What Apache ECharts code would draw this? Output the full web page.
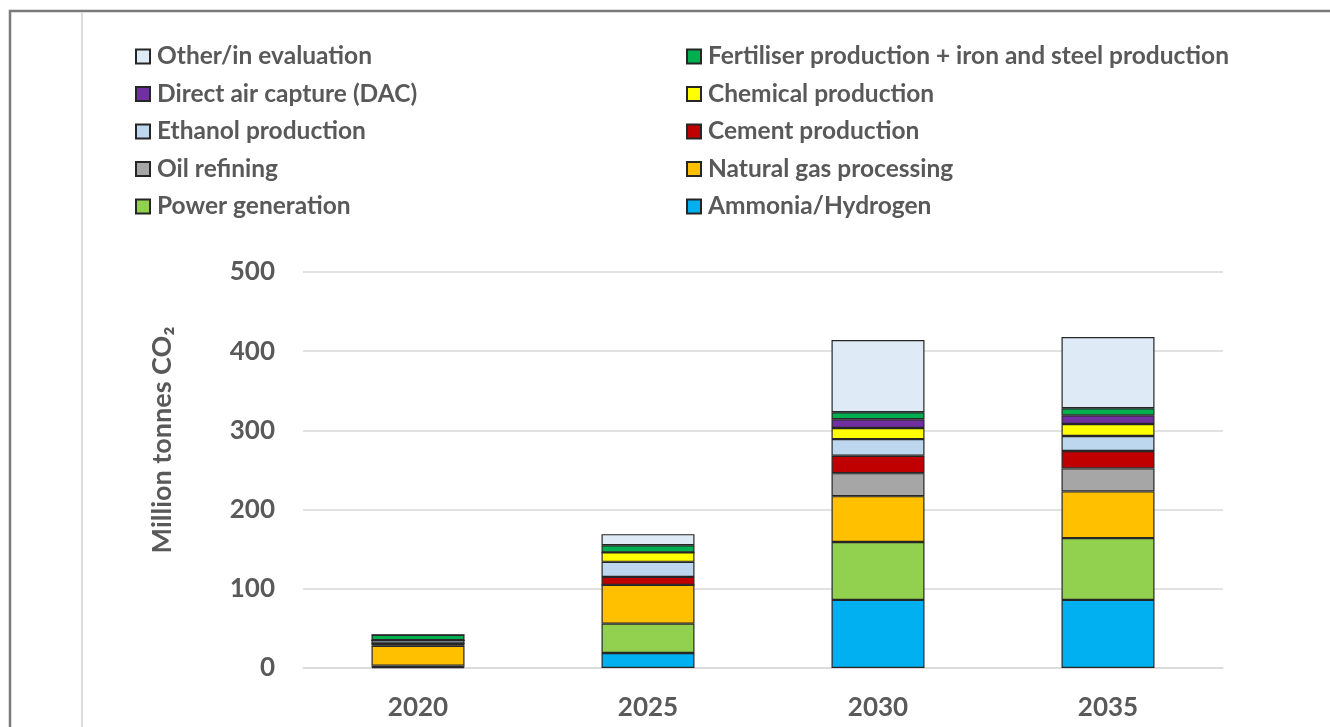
<!DOCTYPE html>
<html>
<head>
<meta charset="utf-8">
<script src="https://cdn.jsdelivr.net/npm/echarts@6/dist/echarts.min.js"></script>
<style>
  html, body { margin: 0; padding: 0; background: #ffffff; }
  #chart { width: 1330px; height: 727px; }
</style>
</head>
<body>
<div id="chart"></div>
<script>
// Years on the category axis
const years = ['2020', '2025', '2030', '2035'];

// Captured CO2 by source, million tonnes (stacked bottom to top)
const ammoniaHydrogen  = [1, 19, 86, 86];
const powerGeneration  = [2, 37, 73, 78];
const naturalGas       = [25, 49, 58, 59];
const oilRefining      = [3, 0, 29, 29];
const cementProduction = [0, 10, 22, 22];
const ethanolProd      = [4, 19, 21, 19];
const chemicalProd     = [0, 12, 14, 15];
const directAirCapture = [0, 0, 11, 11];
const fertiliserSteel  = [7, 9, 9, 9];
const otherEvaluation  = [0, 14, 91, 90];

// Value axis ticks
const yTicks = [0, 100, 200, 300, 400, 500];

const seriesDefs = [
  { name: 'Ammonia/Hydrogen', data: ammoniaHydrogen, color: '#00B0F0' },
  { name: 'Power generation', data: powerGeneration, color: '#92D050' },
  { name: 'Natural gas processing', data: naturalGas, color: '#FFC000' },
  { name: 'Oil refining', data: oilRefining, color: '#A6A6A6' },
  { name: 'Cement production', data: cementProduction, color: '#C00000' },
  { name: 'Ethanol production', data: ethanolProd, color: '#BDD7EE' },
  { name: 'Chemical production', data: chemicalProd, color: '#FFFF00' },
  { name: 'Direct air capture (DAC)', data: directAirCapture, color: '#7030A0' },
  { name: 'Fertiliser production + iron and steel production', data: fertiliserSteel, color: '#00B050' },
  { name: 'Other/in evaluation', data: otherEvaluation, color: '#DEEBF7' }
];

const textColor = '#595959';
const fontFamily = 'Lato, "Open Sans", sans-serif';

const legendCommon = {
  orient: 'vertical',
  padding: 0,
  itemWidth: 14,
  itemHeight: 14,
  itemGap: 12.5,
  icon: 'rect',
  textStyle: { color: textColor, fontFamily: fontFamily, fontWeight: 'bold', fontSize: 24.5, lineHeight: 24, padding: [0, 0, 0, 2] }
};

const chart = echarts.init(document.getElementById('chart'), null, { renderer: 'canvas' });

chart.setOption({
  animation: false,
  backgroundColor: '#ffffff',
  graphic: [
    {
      type: 'rect', silent: true, z: -10,
      shape: { x: 10, y: 11, width: 1400, height: 800 },
      style: { fill: 'none', stroke: '#7a7a7a', lineWidth: 2.5 }
    },
    {
      type: 'line', silent: true, z: -10,
      shape: { x1: 82, y1: 12, x2: 82, y2: 727 },
      style: { stroke: '#dcdcdc', lineWidth: 2 }
    },
    {
      type: 'text', silent: true,
      x: 162, y: 440, rotation: Math.PI / 2,
      style: {
        text: 'Million tonnes CO₂',
        fill: textColor,
        font: 'bold 27px ' + fontFamily,
        textAlign: 'center',
        textVerticalAlign: 'middle'
      }
    }
  ],
  legend: [
    Object.assign({}, legendCommon, {
      left: 135, top: 44,
      data: ['Other/in evaluation', 'Direct air capture (DAC)', 'Ethanol production', 'Oil refining', 'Power generation']
    }),
    Object.assign({}, legendCommon, {
      left: 686, top: 44,
      data: ['Fertiliser production + iron and steel production', 'Chemical production', 'Cement production', 'Natural gas processing', 'Ammonia/Hydrogen']
    })
  ],
  grid: { left: 303, right: 107, top: 272, bottom: 59, containLabel: false },
  xAxis: {
    type: 'category',
    data: years,
    axisLine: { lineStyle: { color: '#D9D9D9', width: 1.5 } },
    axisTick: { show: false },
    axisLabel: { color: textColor, fontFamily: fontFamily, fontWeight: 'bold', fontSize: 26, margin: 27 }
  },
  yAxis: {
    type: 'value',
    min: yTicks[0],
    max: yTicks[yTicks.length - 1],
    interval: yTicks[1] - yTicks[0],
    axisLine: { show: false },
    axisTick: { show: false },
    splitLine: { lineStyle: { color: '#D9D9D9', width: 1.5 } },
    axisLabel: { color: textColor, fontFamily: fontFamily, fontWeight: 'bold', fontSize: 26, margin: 28 }
  },
  series: seriesDefs.map(s => ({
    name: s.name,
    type: 'bar',
    stack: 'total',
    barWidth: 93,
    data: s.data,
    itemStyle: { color: s.color, borderColor: '#262626', borderWidth: 1.2 }
  }))
});
</script>
</body>
</html>
